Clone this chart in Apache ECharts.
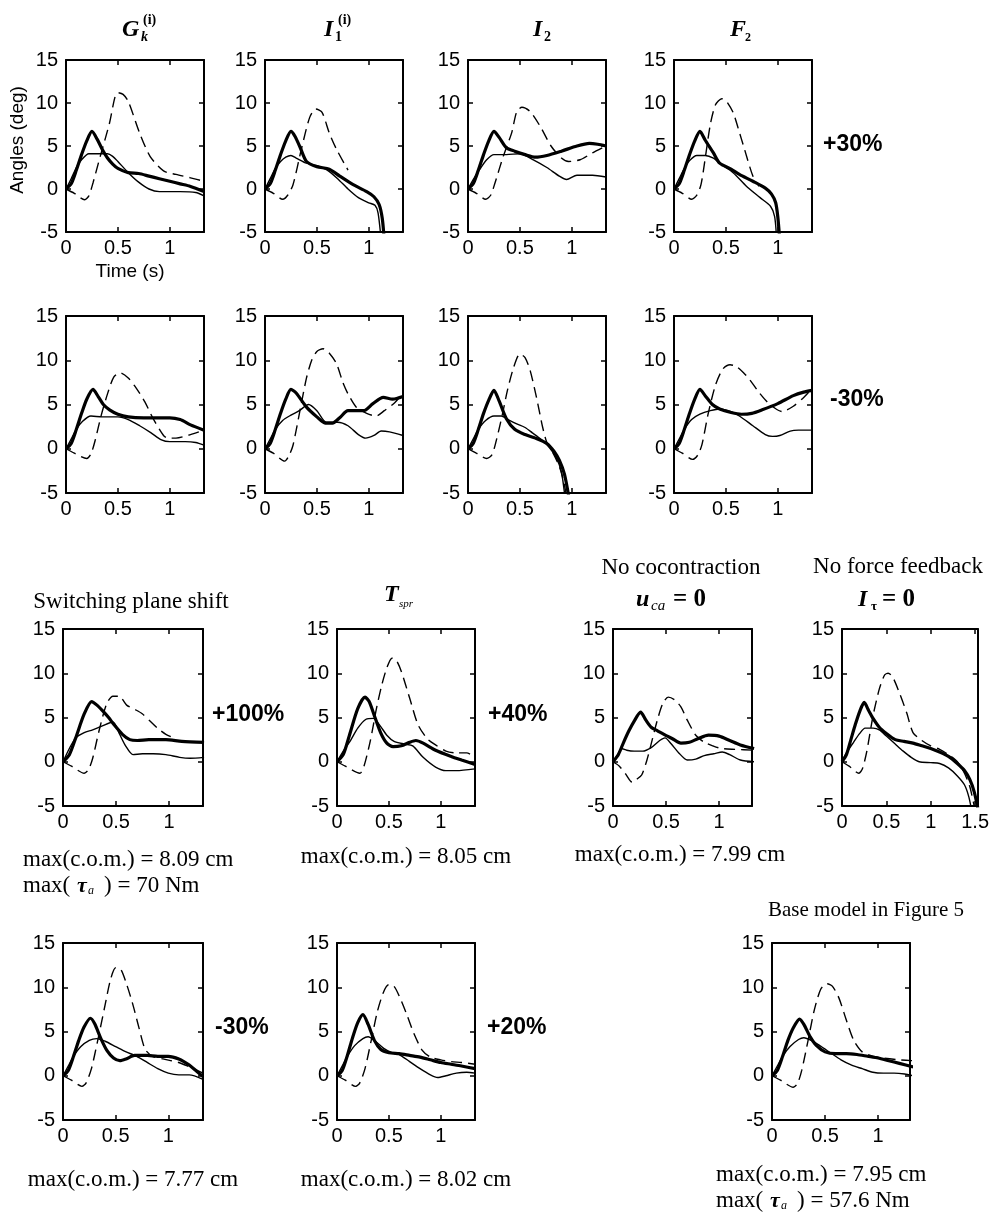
<!DOCTYPE html>
<html><head><meta charset="utf-8">
<script src="https://cdn.jsdelivr.net/npm/echarts@6/dist/echarts.min.js"></script>
<style>html,body{margin:0;padding:0;background:#fff}#c{width:992px;height:1220px}</style>
</head><body><div id="c"></div>
<script>
// ---------- data (time s, angle deg) ----------
const yTicks = [-5, 0, 5, 10, 15];
const xTickStep = 0.5;

const p1Thick = [[0,0],[0.05,0.6],[0.1,2.2],[0.15,4.0],[0.2,5.6],[0.25,6.7],[0.3,5.8],[0.35,4.6],[0.4,3.6],[0.45,2.9],[0.5,2.4],[0.6,1.9],[0.7,1.8],[0.8,1.5],[0.9,1.2],[1.0,0.9],[1.1,0.6],[1.2,0.3],[1.33,-0.3]];
const p1Thin = [[0,0],[0.05,1.2],[0.1,2.5],[0.15,3.4],[0.22,4.1],[0.3,4.1],[0.4,4.1],[0.45,3.8],[0.5,3.2],[0.6,1.9],[0.7,0.8],[0.8,0],[0.9,-0.3],[1.1,-0.3],[1.25,-0.4],[1.33,-0.8]];
const p1Dash = [[0,0],[0.08,-0.5],[0.18,-1.25],[0.22,-0.8],[0.26,0.7],[0.33,3.8],[0.42,7.7],[0.47,10.6],[0.5,11.2],[0.55,11.0],[0.6,10.2],[0.71,6.5],[0.81,3.8],[0.94,2.1],[1.06,1.7],[1.2,1.3],[1.33,0.9]];

const p2Thick = [[0,0],[0.05,0.6],[0.1,2.2],[0.15,4.0],[0.2,5.6],[0.25,6.7],[0.29,6.1],[0.34,4.8],[0.4,3.2],[0.5,2.6],[0.62,2.3],[0.72,1.5],[0.85,0.5],[0.98,-0.3],[1.05,-0.9],[1.1,-1.8],[1.13,-3.4],[1.15,-6]];
const p2Thin = [[0,0],[0.05,1.2],[0.1,2.4],[0.15,3.2],[0.2,3.7],[0.25,3.9],[0.3,3.6],[0.4,3.0],[0.5,2.7],[0.6,2.2],[0.7,1.2],[0.8,0],[0.9,-1.0],[1.0,-1.6],[1.06,-1.9],[1.09,-2.8],[1.12,-6]];
const p2Dash = [[0,0],[0.08,-0.5],[0.17,-1.2],[0.22,-0.7],[0.27,0.5],[0.35,4.6],[0.43,8.3],[0.49,9.3],[0.55,8.9],[0.62,6.5],[0.69,4.6],[0.8,2.2]];

const p3Thick = [[0,0],[0.05,0.6],[0.1,2.2],[0.15,4.0],[0.2,5.6],[0.25,6.7],[0.3,6.0],[0.37,4.8],[0.45,4.4],[0.55,4.0],[0.65,3.7],[0.76,3.9],[0.9,4.4],[1.05,5.0],[1.17,5.3],[1.25,5.2],[1.33,5.0]];
const p3Thin = [[0,0],[0.05,1.1],[0.12,2.4],[0.18,3.4],[0.25,4.0],[0.37,4.0],[0.5,4.1],[0.63,3.4],[0.76,2.5],[0.88,1.5],[0.95,1.1],[1.05,1.6],[1.2,1.6],[1.33,1.4]];
const p3Dash = [[0,0],[0.08,-0.5],[0.17,-1.2],[0.22,-0.7],[0.26,0.7],[0.34,3.8],[0.42,6.5],[0.47,9.0],[0.52,9.5],[0.6,9.0],[0.7,7.2],[0.8,5.0],[0.9,3.6],[0.97,3.2],[1.08,3.4],[1.2,4.2],[1.33,5.0]];

const p4Thick = [[0,0],[0.05,0.6],[0.1,2.2],[0.15,4.0],[0.2,5.6],[0.25,6.7],[0.3,5.7],[0.38,4.2],[0.44,3.0],[0.55,2.3],[0.63,1.7],[0.76,0.9],[0.88,0.1],[0.94,-0.6],[0.98,-1.6],[1.0,-3.2],[1.02,-6]];
const p4Thin = [[0,0],[0.05,1.2],[0.1,2.4],[0.15,3.3],[0.22,3.9],[0.3,3.9],[0.38,3.6],[0.44,3.0],[0.57,1.9],[0.7,0.3],[0.83,-1.0],[0.93,-2.0],[0.97,-3.2],[0.99,-6]];
const p4Dash = [[0,0],[0.08,-0.5],[0.17,-1.2],[0.22,-0.7],[0.26,0.5],[0.3,3.5],[0.35,7.5],[0.4,9.8],[0.46,10.5],[0.5,10.3],[0.57,8.9],[0.62,7.0],[0.68,4.6],[0.76,1.5],[0.82,0.3]];

const p5Thick = [[0,0],[0.05,0.6],[0.1,2.2],[0.15,4.0],[0.2,5.6],[0.26,6.7],[0.31,5.9],[0.36,5.0],[0.42,4.4],[0.5,3.9],[0.6,3.6],[0.75,3.5],[0.9,3.5],[1.0,3.5],[1.1,3.3],[1.2,2.7],[1.33,2.1]];
const p5Thin = [[0,0],[0.05,1.1],[0.1,2.2],[0.16,3.1],[0.24,3.7],[0.35,3.6],[0.5,3.6],[0.6,3.3],[0.71,2.6],[0.82,1.8],[0.92,1.0],[1.0,0.8],[1.15,0.8],[1.25,0.7],[1.33,0.4]];
const p5Dash = [[0,0],[0.08,-0.5],[0.2,-1.1],[0.24,-0.6],[0.28,0.9],[0.34,3.8],[0.4,6.2],[0.46,8.1],[0.52,8.6],[0.6,8.0],[0.68,6.8],[0.76,5.3],[0.84,3.4],[0.94,1.5],[0.98,1.2],[1.06,1.2],[1.2,1.6],[1.33,2.1]];

const p6Thick = [[0,0],[0.05,0.6],[0.1,2.2],[0.15,4.0],[0.2,5.6],[0.25,6.7],[0.3,6.3],[0.4,4.7],[0.5,3.6],[0.58,2.9],[0.65,2.9],[0.72,3.5],[0.8,4.3],[0.95,4.3],[1.04,5.1],[1.14,5.8],[1.23,5.6],[1.33,5.9]];
const p6Thin = [[0,0],[0.05,1.1],[0.1,2.2],[0.17,3.2],[0.25,3.8],[0.33,4.3],[0.42,5.0],[0.5,4.3],[0.59,3.0],[0.7,3.0],[0.8,2.6],[0.9,1.6],[0.97,1.2],[1.05,1.5],[1.12,2.0],[1.2,1.9],[1.33,1.5]];
const p6Dash = [[0,0],[0.08,-0.5],[0.19,-1.4],[0.23,-0.8],[0.27,0.4],[0.34,4.5],[0.4,8.0],[0.45,10.0],[0.5,11.0],[0.56,11.3],[0.62,10.8],[0.69,9.6],[0.75,7.5],[0.8,6.2],[0.88,4.7],[0.98,4.0],[1.07,3.7],[1.15,4.3],[1.25,5.2],[1.33,6.3]];

const p7Thick = [[0,0],[0.05,0.6],[0.1,2.2],[0.15,4.0],[0.2,5.5],[0.25,6.6],[0.3,5.4],[0.37,3.4],[0.45,2.2],[0.55,1.6],[0.65,1.2],[0.76,0.6],[0.83,-0.3],[0.88,-1.3],[0.93,-2.9],[0.98,-6]];
const p7Thin = [[0,0],[0.05,1.1],[0.1,2.2],[0.17,3.2],[0.25,3.7],[0.32,3.7],[0.4,3.2],[0.47,2.8],[0.55,2.4],[0.62,1.8],[0.7,1.1],[0.78,0.2],[0.85,-1.0],[0.9,-2.6],[0.94,-6]];
const p7Dash = [[0,0],[0.08,-0.5],[0.18,-1.1],[0.23,-0.7],[0.27,0.8],[0.33,3.8],[0.38,6.6],[0.44,9.2],[0.5,10.7],[0.55,10.3],[0.6,8.8],[0.66,5.8],[0.72,2.4],[0.76,0.7],[0.82,-0.5],[0.88,-2.0],[0.92,-3.6],[0.96,-6]];

const p8Thick = [[0,0],[0.05,0.6],[0.1,2.2],[0.15,4.0],[0.2,5.6],[0.25,6.7],[0.3,6.0],[0.37,5.0],[0.44,4.5],[0.55,4.1],[0.65,3.9],[0.75,4.0],[0.85,4.4],[1.0,5.1],[1.15,6.0],[1.25,6.4],[1.33,6.6]];
const p8Thin = [[0,0],[0.05,1.1],[0.1,2.2],[0.17,3.3],[0.25,3.9],[0.35,4.3],[0.44,4.5],[0.55,4.2],[0.63,3.7],[0.76,2.6],[0.88,1.6],[0.95,1.4],[1.02,1.5],[1.12,2.0],[1.2,2.1],[1.33,2.1]];
const p8Dash = [[0,0],[0.08,-0.5],[0.18,-1.2],[0.23,-0.7],[0.27,0.5],[0.33,4.0],[0.4,7.2],[0.47,9.0],[0.54,9.5],[0.6,9.3],[0.67,8.6],[0.73,7.8],[0.81,6.5],[0.89,5.4],[0.97,4.6],[1.04,4.2],[1.15,4.8],[1.25,5.8],[1.33,6.8]];

const p9Thick = [[0,0],[0.06,0.8],[0.12,2.7],[0.2,5.4],[0.27,6.8],[0.32,6.4],[0.37,5.8],[0.43,5.0],[0.48,4.2],[0.56,3.1],[0.63,2.5],[0.7,2.4],[0.81,2.5],[0.97,2.5],[1.12,2.3],[1.33,2.2]];
const p9Thin = [[0,0],[0.06,1.5],[0.12,2.7],[0.2,3.3],[0.28,3.6],[0.36,4.0],[0.47,4.5],[0.53,3.2],[0.59,1.8],[0.66,0.8],[0.75,0.9],[0.85,0.9],[0.97,0.8],[1.1,0.5],[1.2,0.4],[1.33,0.5]];
const p9Dash = [[0,0],[0.08,-0.5],[0.2,-1.3],[0.24,-0.9],[0.28,0.4],[0.34,3.5],[0.41,6.5],[0.47,7.4],[0.53,7.4],[0.6,6.4],[0.68,5.9],[0.75,5.4],[0.82,4.6],[0.89,3.8],[0.97,3.1],[1.06,2.6]];

const p10Thick = [[0,0],[0.06,0.8],[0.12,3.0],[0.2,6.0],[0.27,7.3],[0.31,6.8],[0.36,5.2],[0.42,3.3],[0.48,2.1],[0.54,1.7],[0.62,1.8],[0.7,2.2],[0.76,2.4],[0.83,2.1],[0.95,1.3],[1.1,0.6],[1.2,0.2],[1.33,-0.3]];
const p10Thin = [[0,0],[0.06,1.2],[0.13,2.4],[0.2,3.8],[0.28,4.8],[0.35,4.9],[0.42,4.0],[0.48,3.0],[0.55,2.3],[0.65,2.0],[0.73,1.8],[0.83,0.5],[0.95,-0.6],[1.05,-1.0],[1.15,-1.0],[1.33,-0.8]];
const p10Dash = [[0,0],[0.08,-0.5],[0.22,-1.3],[0.26,-0.5],[0.32,2.3],[0.38,6.0],[0.43,8.6],[0.48,10.6],[0.53,11.7],[0.57,11.5],[0.62,10.2],[0.7,7.2],[0.78,4.2],[0.87,2.6],[0.95,1.9],[1.05,1.2],[1.15,1.0],[1.25,1.0],[1.33,0.5]];

const p11Thick = [[0,0],[0.05,0.8],[0.1,2.2],[0.15,3.5],[0.2,4.6],[0.26,5.6],[0.31,4.7],[0.36,3.9],[0.42,3.5],[0.48,3.1],[0.56,2.6],[0.64,2.1],[0.72,2.2],[0.8,2.6],[0.9,3.0],[1.0,2.9],[1.1,2.4],[1.2,1.9],[1.33,1.5]];
const p11Thin = [[0,0],[0.05,0.9],[0.08,1.5],[0.13,1.3],[0.2,1.2],[0.28,1.2],[0.36,1.6],[0.44,2.4],[0.49,2.7],[0.55,2.0],[0.62,1.0],[0.7,0.2],[0.78,0.3],[0.86,0.7],[0.95,0.9],[1.03,1.1],[1.1,0.8],[1.2,0.2],[1.33,0]];
const p11Dash = [[0,0],[0.06,-0.5],[0.12,-1.4],[0.18,-2.3],[0.22,-2.0],[0.27,-1.5],[0.32,0.2],[0.37,2.5],[0.42,4.8],[0.47,6.6],[0.52,7.3],[0.58,7.0],[0.64,6.2],[0.7,4.7],[0.78,3.0],[0.86,2.2],[0.94,1.8],[1.02,1.5],[1.15,1.4],[1.33,1.3]];

const p12Thick = [[0,0],[0.05,0.8],[0.1,2.5],[0.15,4.2],[0.2,5.7],[0.25,6.7],[0.3,5.8],[0.35,4.9],[0.42,3.9],[0.5,3.2],[0.6,2.5],[0.7,2.3],[0.8,2.1],[0.9,1.8],[1.0,1.5],[1.1,1.1],[1.2,0.6],[1.3,-0.2],[1.38,-1.0],[1.44,-2.0],[1.49,-3.4],[1.53,-5.2]];
const p12Thin = [[0,0],[0.05,1.0],[0.13,2.2],[0.2,3.2],[0.26,3.8],[0.35,3.8],[0.42,3.6],[0.5,2.9],[0.6,2.0],[0.69,1.2],[0.78,0.5],[0.87,0],[1.0,-0.1],[1.1,-0.2],[1.2,-0.7],[1.3,-1.6],[1.38,-2.6],[1.43,-4],[1.47,-6]];
const p12Dash = [[0,0],[0.08,-0.5],[0.19,-1.3],[0.23,-0.8],[0.28,1.2],[0.35,5.2],[0.42,8.2],[0.48,9.8],[0.52,10.0],[0.57,9.6],[0.65,7.7],[0.73,5.5],[0.8,3.3],[0.9,2.4],[1.0,1.8],[1.1,1.4],[1.2,0.8],[1.3,0],[1.38,-1.3],[1.44,-2.8],[1.5,-5.5]];

const p13Thick = [[0,0],[0.05,0.6],[0.1,2.2],[0.15,4.0],[0.2,5.5],[0.26,6.5],[0.3,5.9],[0.36,4.2],[0.42,2.8],[0.48,2.0],[0.54,1.7],[0.6,1.9],[0.68,2.3],[0.8,2.3],[0.9,2.2],[1.0,2.2],[1.1,1.9],[1.2,1.2],[1.27,0.5],[1.33,-0.1]];
const p13Thin = [[0,0],[0.05,1.1],[0.1,2.2],[0.17,3.3],[0.25,4.0],[0.32,4.2],[0.4,3.9],[0.5,3.3],[0.6,2.7],[0.7,2.2],[0.8,1.5],[0.9,0.8],[1.0,0.3],[1.1,0.1],[1.2,0.1],[1.33,-0.4]];
const p13Dash = [[0,0],[0.08,-0.5],[0.18,-1.2],[0.22,-0.8],[0.27,0.8],[0.33,4.0],[0.4,8.0],[0.45,10.8],[0.5,12.2],[0.55,12.0],[0.6,10.5],[0.66,8.2],[0.72,5.5],[0.78,3.0],[0.85,2.2],[0.95,1.9],[1.1,1.5],[1.2,1.0],[1.33,0.3]];

const p14Thick = [[0,0],[0.05,0.6],[0.1,2.3],[0.15,4.3],[0.2,6.0],[0.25,6.9],[0.3,5.8],[0.36,4.0],[0.42,3.0],[0.5,2.6],[0.6,2.5],[0.7,2.3],[0.8,2.1],[0.9,1.8],[1.0,1.5],[1.1,1.3],[1.2,1.1],[1.33,0.8]];
const p14Thin = [[0,0],[0.05,1.1],[0.1,2.2],[0.17,3.4],[0.25,4.2],[0.3,4.4],[0.37,3.9],[0.45,3.1],[0.53,2.6],[0.6,2.4],[0.7,1.6],[0.8,0.8],[0.9,0.1],[0.97,-0.2],[1.05,0],[1.15,0.3],[1.25,0.4],[1.33,0.3]];
const p14Dash = [[0,0],[0.08,-0.5],[0.18,-1.2],[0.22,-0.8],[0.27,0.8],[0.33,4.0],[0.39,7.3],[0.45,9.5],[0.5,10.3],[0.55,10.1],[0.6,9.0],[0.67,7.0],[0.74,4.8],[0.82,2.9],[0.9,2.1],[1.0,1.8],[1.1,1.6],[1.2,1.5],[1.33,1.3]];

const p15Thick = [[0,0],[0.05,0.6],[0.1,2.2],[0.15,4.0],[0.2,5.4],[0.26,6.4],[0.3,5.8],[0.36,4.4],[0.42,3.4],[0.5,2.7],[0.6,2.5],[0.7,2.5],[0.8,2.4],[0.9,2.2],[1.0,2.0],[1.1,1.7],[1.2,1.4],[1.33,1.0]];
const p15Thin = [[0,0],[0.05,1.1],[0.1,2.2],[0.17,3.3],[0.25,4.1],[0.3,4.3],[0.37,4.0],[0.45,3.4],[0.55,2.6],[0.65,1.8],[0.75,1.2],[0.85,0.8],[0.95,0.4],[1.05,0.3],[1.15,0.3],[1.25,0.2],[1.33,0]];
const p15Dash = [[0,0],[0.08,-0.5],[0.2,-1.3],[0.24,-0.9],[0.28,0.6],[0.34,4.0],[0.4,7.5],[0.46,9.8],[0.52,10.4],[0.57,10.1],[0.63,8.8],[0.7,6.3],[0.77,4.0],[0.85,2.7],[0.95,2.2],[1.05,2.0],[1.2,1.8],[1.33,1.7]];

// ---------- layout ----------
const R = [[60,172],[316,177],[629,177],[943,177]];
const panels = [
  {l:66,  r:0, w:138, xmax:1.33, d:[p1Thick,p1Thin,p1Dash]},
  {l:265, r:0, w:138, xmax:1.33, d:[p2Thick,p2Thin,p2Dash]},
  {l:468, r:0, w:138, xmax:1.33, d:[p3Thick,p3Thin,p3Dash]},
  {l:674, r:0, w:138, xmax:1.33, d:[p4Thick,p4Thin,p4Dash]},
  {l:66,  r:1, w:138, xmax:1.33, d:[p5Thick,p5Thin,p5Dash]},
  {l:265, r:1, w:138, xmax:1.33, d:[p6Thick,p6Thin,p6Dash]},
  {l:468, r:1, w:138, xmax:1.33, d:[p7Thick,p7Thin,p7Dash]},
  {l:674, r:1, w:138, xmax:1.33, d:[p8Thick,p8Thin,p8Dash]},
  {l:63,  r:2, w:140, xmax:1.32, d:[p9Thick,p9Thin,p9Dash]},
  {l:337, r:2, w:138, xmax:1.33, d:[p10Thick,p10Thin,p10Dash]},
  {l:613, r:2, w:139, xmax:1.31, d:[p11Thick,p11Thin,p11Dash]},
  {l:842, r:2, w:137, xmax:1.53, d:[p12Thick,p12Thin,p12Dash]},
  {l:63,  r:3, w:140, xmax:1.33, d:[p13Thick,p13Thin,p13Dash]},
  {l:337, r:3, w:138, xmax:1.33, d:[p14Thick,p14Thin,p14Dash]},
  {l:772, r:3, w:138, xmax:1.3, d:[p15Thick,p15Thin,p15Dash]}
];

const SANS = 'Liberation Sans', SERIF = 'Liberation Serif';
const grid = [], xAxis = [], yAxis = [], series = [];
const lineCommon = {show:true, onZero:false, lineStyle:{color:'#000', width:2}};
const tickCommon = {show:true, inside:true, length:5, lineStyle:{color:'#000', width:1.5}};
const lblFmt = v => (Math.abs(v / xTickStep - Math.round(v / xTickStep)) < 1e-6 ? String(v) : '');

panels.forEach((p, i) => {
  const [top, h] = R[p.r];
  grid.push({left:p.l, top:top, width:p.w, height:h, containLabel:false});
  xAxis.push({gridIndex:i, type:'value', position:'bottom', min:0, max:p.xmax, interval:xTickStep,
    axisLine:lineCommon, axisTick:tickCommon, splitLine:{show:false},
    axisLabel:{color:'#000', fontFamily:SANS, fontSize:20, margin:6, formatter:lblFmt}});
  xAxis.push({gridIndex:i, type:'value', position:'top', min:0, max:p.xmax, interval:xTickStep,
    axisLine:lineCommon, axisTick:tickCommon, splitLine:{show:false}, axisLabel:{show:false}});
  yAxis.push({gridIndex:i, type:'value', position:'left', min:yTicks[0], max:yTicks[yTicks.length-1], interval:5,
    axisLine:lineCommon, axisTick:tickCommon, splitLine:{show:false},
    axisLabel:{color:'#000', fontFamily:SANS, fontSize:20, margin:8}});
  yAxis.push({gridIndex:i, type:'value', position:'right', min:yTicks[0], max:yTicks[yTicks.length-1], interval:5,
    axisLine:lineCommon, axisTick:tickCommon, splitLine:{show:false}, axisLabel:{show:false}});
  const styles = [
    {width:3.2, type:'solid'},
    {width:1.4, type:'solid'},
    {width:1.4, type:[11,6]}
  ];
  p.d.forEach((arr, k) => {
    series.push({type:'line', xAxisIndex:2*i, yAxisIndex:2*i, data:arr, showSymbol:false, symbol:'none',
      smooth:0.25, clip:true, silent:true, lineStyle:Object.assign({color:'#000'}, styles[k])});
  });
});

// ---------- text ----------
function T(x, y, s, o) {
  o = o || {};
  return {type:'text', x:x, y:y, rotation:o.rot || 0, silent:true, style:{
    text:s, fill:'#000', fontFamily:o.ff || SERIF, fontSize:o.fs || 23,
    fontWeight:o.fw || 'normal', fontStyle:o.st || 'normal',
    align:o.a || 'left', verticalAlign:'middle', textAlign:o.a || 'left', textVerticalAlign:'middle'}};
}
const BI = {fw:'bold', st:'italic', fs:24};
const pct = {ff:SANS, fw:'bold', fs:23};
const g = [];
// row 1 titles
g.push(T(122,30,'G',BI), T(141,37,'k',{fw:'bold',st:'italic',fs:14}), T(143,20,'(i)',{fw:'bold',fs:14}));
g.push(T(324,30,'I',BI), T(335,37,'1',{fw:'bold',fs:14}), T(338,20,'(i)',{fw:'bold',fs:14}));
g.push(T(533,30,'I',BI), T(544,37,'2',{fw:'bold',fs:14}));
g.push(T(730,30,'F',BI), T(745,38,'2',{fw:'bold',fs:12}));
// axis titles
g.push(T(18,140,'Angles (deg)',{ff:SANS,fs:19,a:'center',rot:Math.PI/2}));
g.push(T(130,272,'Time (s)',{ff:SANS,fs:19,a:'center'}));
// percent labels
g.push(T(823,145,'+30%',pct), T(830,400,'-30%',pct));
g.push(T(212,715,'+100%',pct), T(488,715,'+40%',pct));
g.push(T(215,1028,'-30%',pct), T(487,1028,'+20%',pct));
// row 3 titles
g.push(T(131,602,'Switching plane shift',{a:'center'}));
g.push(T(384,595,'T',BI), T(399,604,'spr',{st:'italic',fs:11}));
g.push(T(681,568,'No cocontraction',{a:'center'}));
g.push(T(636,600,'u',BI), T(651,606,'ca',{st:'italic',fs:15}), T(673,600,'= 0',{fw:'bold',fs:25}));
g.push(T(898,567,'No force feedback',{a:'center'}));
g.push(T(858,600,'I',BI), T(871,607,'τ',{fw:'bold',fs:13}), T(882,600,'= 0',{fw:'bold',fs:25}));
g.push(T(866,910,'Base model in Figure 5',{a:'center',fs:21}));
// result texts
const M = {fs:23};
g.push(T(23,860,'max(c.o.m.) = 8.09 cm',M));
g.push(T(23,886,'max(',M), T(77,886,'τ',{fw:'bold',st:'italic',fs:22}), T(88,891,'a',{st:'italic',fs:12}), T(104,886,') = 70 Nm',M));
g.push(T(406,857,'max(c.o.m.) = 8.05 cm',Object.assign({a:'center'},M)));
g.push(T(680,855,'max(c.o.m.) = 7.99 cm',Object.assign({a:'center'},M)));
g.push(T(133,1180,'max(c.o.m.) = 7.77 cm',Object.assign({a:'center'},M)));
g.push(T(406,1180,'max(c.o.m.) = 8.02 cm',Object.assign({a:'center'},M)));
g.push(T(716,1175,'max(c.o.m.) = 7.95 cm',M));
g.push(T(716,1201,'max(',M), T(770,1201,'τ',{fw:'bold',st:'italic',fs:22}), T(781,1206,'a',{st:'italic',fs:12}), T(797,1201,') = 57.6 Nm',M));

const chart = echarts.init(document.getElementById('c'), null, {renderer:'canvas'});
chart.setOption({animation:false, backgroundColor:'#fff', grid, xAxis, yAxis, series, graphic:{elements:g}});
</script></body></html>
